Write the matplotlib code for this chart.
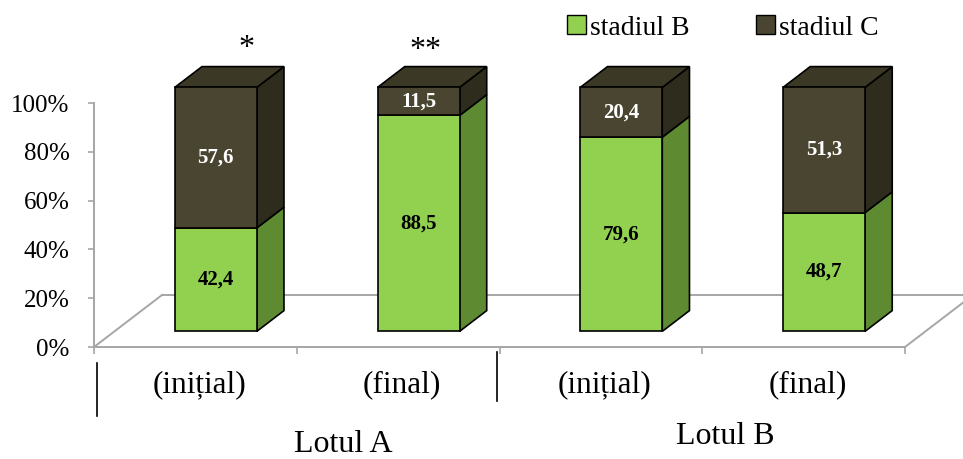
import matplotlib
matplotlib.use("Agg")
import matplotlib.pyplot as plt
from matplotlib.patches import Polygon, Patch
from matplotlib.lines import Line2D
from matplotlib.transforms import blended_transform_factory, ScaledTranslation

# ---- data -------------------------------------------------------------
categories = ["(inițial)", "(final)", "(inițial)", "(final)"]
groups = ["Lotul A", "Lotul B"]
stadiul_b = [42.4, 88.5, 79.6, 48.7]
stadiul_c = [57.6, 11.5, 20.4, 51.3]
series_names = ["stadiul B", "stadiul C"]
significance = ["*", "**", "", ""]
y_ticks = [0, 20, 40, 60, 80, 100]
y_tick_labels = [f"{t}%" for t in y_ticks]

# ---- style ------------------------------------------------------------
SERIF = ["Liberation Serif", "DejaVu Serif"]
plt.rcParams["font.family"] = SERIF

front_col = {"B": "#92D050", "C": "#4A4530"}
side_col = {"B": "#5E8A32", "C": "#2E2C1D"}
top_col = "#3C3826"
floor_col = "#A6A6A6"

W_PX, H_PX, DPI = 963, 459, 100
fig = plt.figure(figsize=(W_PX / DPI, H_PX / DPI), dpi=DPI)

# axes frame (front plane of the 3-D box), pixel geometry
ax_left, ax_right = 94, 905
ax_bottom, ax_top = 347, 103
ax = fig.add_axes([ax_left / W_PX, 1 - ax_bottom / H_PX,
                   (ax_right - ax_left) / W_PX, (ax_bottom - ax_top) / H_PX])
ax.set_xlim(-0.5, len(categories) - 0.5)
ax.set_ylim(0, 100)

px_per_x = (ax_right - ax_left) / len(categories)
px_per_y = (ax_bottom - ax_top) / 100.0

# floor depth vector in pixels (right, up) -> data units
floor_dx = 68 / px_per_x
floor_dy = 52 / px_per_y
front_frac, depth_frac = 0.30, 0.40
off_x, off_y = floor_dx * front_frac, floor_dy * front_frac
dep_x, dep_y = floor_dx * depth_frac, floor_dy * depth_frac
bar_w = 82 / px_per_x

# ---- floor ------------------------------------------------------------
x0, x1 = -0.5, len(categories) - 0.5
floor_kw = dict(color=floor_col, lw=1.4, clip_on=False, zorder=1)
ax.plot([x0 + floor_dx, x1 + floor_dx], [floor_dy, floor_dy], **floor_kw)
ax.plot([x0, x0 + floor_dx], [0, floor_dy], **floor_kw)
ax.plot([x1, x1 + floor_dx], [0, floor_dy], **floor_kw)

# ---- stacked 3-D bars ---------------------------------------------------
edge_kw = dict(edgecolor="black", lw=1.2, clip_on=False, joinstyle="miter")
for i in range(len(categories)):
    xc = i + off_x
    xl, xr = xc - bar_w / 2, xc + bar_w / 2
    segments = [("B", 0.0, stadiul_b[i]), ("C", stadiul_b[i], stadiul_c[i])]
    for key, bottom, h in segments:
        y0, y1 = bottom + off_y, bottom + h + off_y
        ax.add_patch(Polygon([(xr, y0), (xr, y1), (xr + dep_x, y1 + dep_y),
                              (xr + dep_x, y0 + dep_y)], closed=True,
                             facecolor=side_col[key], zorder=3, **edge_kw))
        ax.bar(xc, h, bottom=y0, width=bar_w, color=front_col[key],
               zorder=4, **edge_kw)
        txt = f"{h:.1f}".replace(".", ",")
        ax.text(xc, y0 + h / 2, txt, ha="center", va="center",
                fontsize=15, fontweight="bold",
                color="white" if key == "C" else "black", zorder=6)
    yt = stadiul_b[i] + stadiul_c[i] + off_y
    ax.add_patch(Polygon([(xl, yt), (xr, yt), (xr + dep_x, yt + dep_y),
                          (xl + dep_x, yt + dep_y)], closed=True,
                         facecolor=top_col, zorder=3, **edge_kw))

# significance marks above the first group
sig_shift = [31 / px_per_x, 7 / px_per_x, 0, 0]
sig_lift = [47 / px_per_y, 45 / px_per_y, 0, 0]
for i, mark in enumerate(significance):
    if mark:
        ax.text(i + off_x + sig_shift[i], 100 + sig_lift[i], mark,
                ha="center", va="baseline", fontsize=23, clip_on=False)

# ---- axes -------------------------------------------------------------
for s in ("top", "right"):
    ax.spines[s].set_visible(False)
for s in ("left", "bottom"):
    ax.spines[s].set_color(floor_col)
    ax.spines[s].set_linewidth(1.4)
ax.set_yticks(y_ticks)
ax.set_yticklabels(y_tick_labels, fontsize=18)
ax.tick_params(axis="y", color=floor_col, length=4.5, width=1.2, pad=13)
ax.set_xticks([k - 0.5 for k in range(len(categories) + 1)])
ax.set_xticklabels([])
ax.tick_params(axis="x", color=floor_col, length=5, width=1.2)

lab_tr = blended_transform_factory(ax.transData, ax.transAxes) + \
    ScaledTranslation(4 / DPI, -38 / DPI, fig.dpi_scale_trans)
for i, c in enumerate(categories):
    ax.text(i, 0, c, transform=lab_tr, ha="center", va="center", fontsize=22.5)

# group labels and separators
fig.text(343 / W_PX, 1 - 445 / H_PX, groups[0], ha="center", va="center", fontsize=23)
fig.text(725 / W_PX, 1 - 437 / H_PX, groups[1], ha="center", va="center", fontsize=23)
fig.add_artist(Line2D([97 / W_PX] * 2, [1 - 363 / H_PX, 1 - 416 / H_PX],
                      transform=fig.transFigure, color="black", lw=1.2))
fig.add_artist(Line2D([497 / W_PX] * 2, [1 - 352 / H_PX, 1 - 401 / H_PX],
                      transform=fig.transFigure, color="black", lw=1.2))

# ---- legend -----------------------------------------------------------
handles = [Patch(facecolor=front_col["B"], edgecolor="black", lw=1.0),
           Patch(facecolor=front_col["C"], edgecolor="black", lw=1.0)]
ax.legend(handles, series_names, ncol=2, frameon=False, fontsize=20,
          loc="center left", bbox_to_anchor=(567 / W_PX, 1 - 28 / H_PX),
          bbox_transform=fig.transFigure, borderpad=0, borderaxespad=0,
          handlelength=0.68, handleheight=0.65, handletextpad=0.15,
          columnspacing=2.4)

fig.savefig("out.png", dpi=DPI)
